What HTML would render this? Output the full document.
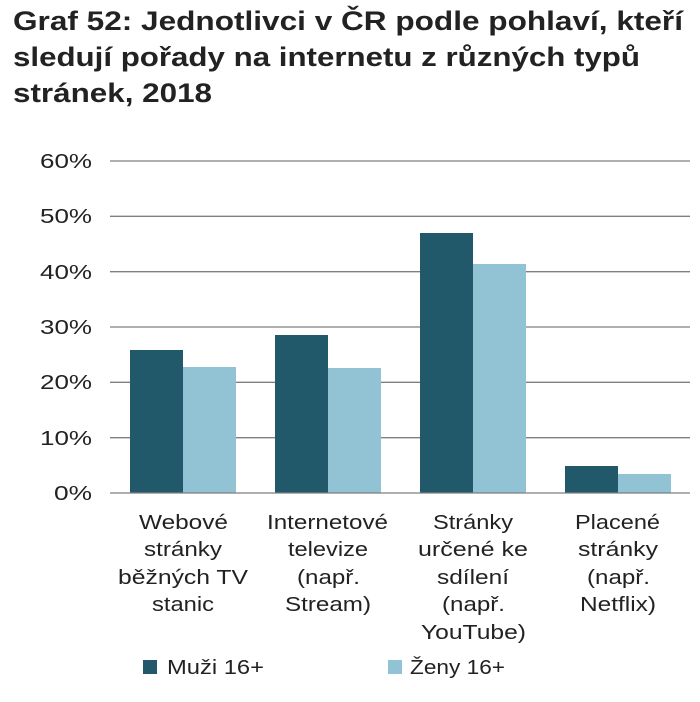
<!DOCTYPE html>
<html><head><meta charset="utf-8"><style>
body{margin:0;background:#fff;width:700px;height:697px;overflow:hidden;font-family:"Liberation Sans",Arial,sans-serif;}
</style></head><body>
<svg width="700" height="697" xmlns="http://www.w3.org/2000/svg" font-family="Liberation Sans, Arial, sans-serif">
<g font-size="27" font-weight="bold" fill="#222">
<text x="13" y="30" textLength="670" lengthAdjust="spacingAndGlyphs">Graf 52: Jednotlivci v ČR podle pohlaví, kteří</text>
<text x="13" y="66" textLength="627" lengthAdjust="spacingAndGlyphs">sledují pořady na internetu z různých typů</text>
<text x="13" y="102" textLength="199" lengthAdjust="spacingAndGlyphs">stránek, 2018</text>
</g>
<g stroke="#7f7f7f" stroke-width="1.3">
<line x1="110" x2="690" y1="161" y2="161"/>
<line x1="110" x2="690" y1="216.3" y2="216.3"/>
<line x1="110" x2="690" y1="271.7" y2="271.7"/>
<line x1="110" x2="690" y1="327" y2="327"/>
<line x1="110" x2="690" y1="382.3" y2="382.3"/>
<line x1="110" x2="690" y1="437.7" y2="437.7"/>
</g>
<g font-size="20" fill="#222">
<text x="40" y="168" textLength="52" lengthAdjust="spacingAndGlyphs">60%</text>
<text x="40" y="223" textLength="52" lengthAdjust="spacingAndGlyphs">50%</text>
<text x="40" y="279" textLength="52" lengthAdjust="spacingAndGlyphs">40%</text>
<text x="40" y="334" textLength="52" lengthAdjust="spacingAndGlyphs">30%</text>
<text x="40" y="389" textLength="52" lengthAdjust="spacingAndGlyphs">20%</text>
<text x="40" y="445" textLength="52" lengthAdjust="spacingAndGlyphs">10%</text>
<text x="54" y="500" textLength="38" lengthAdjust="spacingAndGlyphs">0%</text>
</g>
<g fill="#22596a">
<rect x="130" y="350" width="53" height="143"/>
<rect x="275" y="335" width="53" height="158"/>
<rect x="420" y="233" width="53" height="260"/>
<rect x="565" y="466" width="53" height="27"/>
</g>
<g fill="#92c3d5">
<rect x="183" y="367" width="53" height="126"/>
<rect x="328" y="368" width="53" height="125"/>
<rect x="473" y="264" width="53" height="229"/>
<rect x="618" y="474" width="53" height="19"/>
</g>
<line x1="110" x2="690" y1="493" y2="493" stroke="#7f7f7f" stroke-width="1.3"/>
<g font-size="20" fill="#222">
<text x="139" y="529" textLength="89" lengthAdjust="spacingAndGlyphs">Webové</text>
<text x="144" y="556" textLength="78" lengthAdjust="spacingAndGlyphs">stránky</text>
<text x="118" y="584" textLength="130" lengthAdjust="spacingAndGlyphs">běžných TV</text>
<text x="152" y="611" textLength="62" lengthAdjust="spacingAndGlyphs">stanic</text>
<text x="267" y="529" textLength="121" lengthAdjust="spacingAndGlyphs">Internetové</text>
<text x="288" y="556" textLength="80" lengthAdjust="spacingAndGlyphs">televize</text>
<text x="297" y="584" textLength="63" lengthAdjust="spacingAndGlyphs">(např.</text>
<text x="285" y="611" textLength="86" lengthAdjust="spacingAndGlyphs">Stream)</text>
<text x="433" y="529" textLength="80" lengthAdjust="spacingAndGlyphs">Stránky</text>
<text x="418" y="556" textLength="110" lengthAdjust="spacingAndGlyphs">určené ke</text>
<text x="437" y="584" textLength="72" lengthAdjust="spacingAndGlyphs">sdílení</text>
<text x="442" y="611" textLength="63" lengthAdjust="spacingAndGlyphs">(např.</text>
<text x="421" y="639" textLength="105" lengthAdjust="spacingAndGlyphs">YouTube)</text>
<text x="575" y="529" textLength="85" lengthAdjust="spacingAndGlyphs">Placené</text>
<text x="578" y="556" textLength="80" lengthAdjust="spacingAndGlyphs">stránky</text>
<text x="587" y="584" textLength="63" lengthAdjust="spacingAndGlyphs">(např.</text>
<text x="580" y="611" textLength="76" lengthAdjust="spacingAndGlyphs">Netflix)</text>
</g>
<rect x="143" y="660" width="14" height="14" fill="#22596a"/>
<text x="167" y="674" font-size="20" fill="#222" textLength="97" lengthAdjust="spacingAndGlyphs">Muži 16+</text>
<rect x="388" y="660" width="14" height="14" fill="#92c3d5"/>
<text x="410" y="674" font-size="20" fill="#222" textLength="95" lengthAdjust="spacingAndGlyphs">Ženy 16+</text>
</svg>
</body></html>
